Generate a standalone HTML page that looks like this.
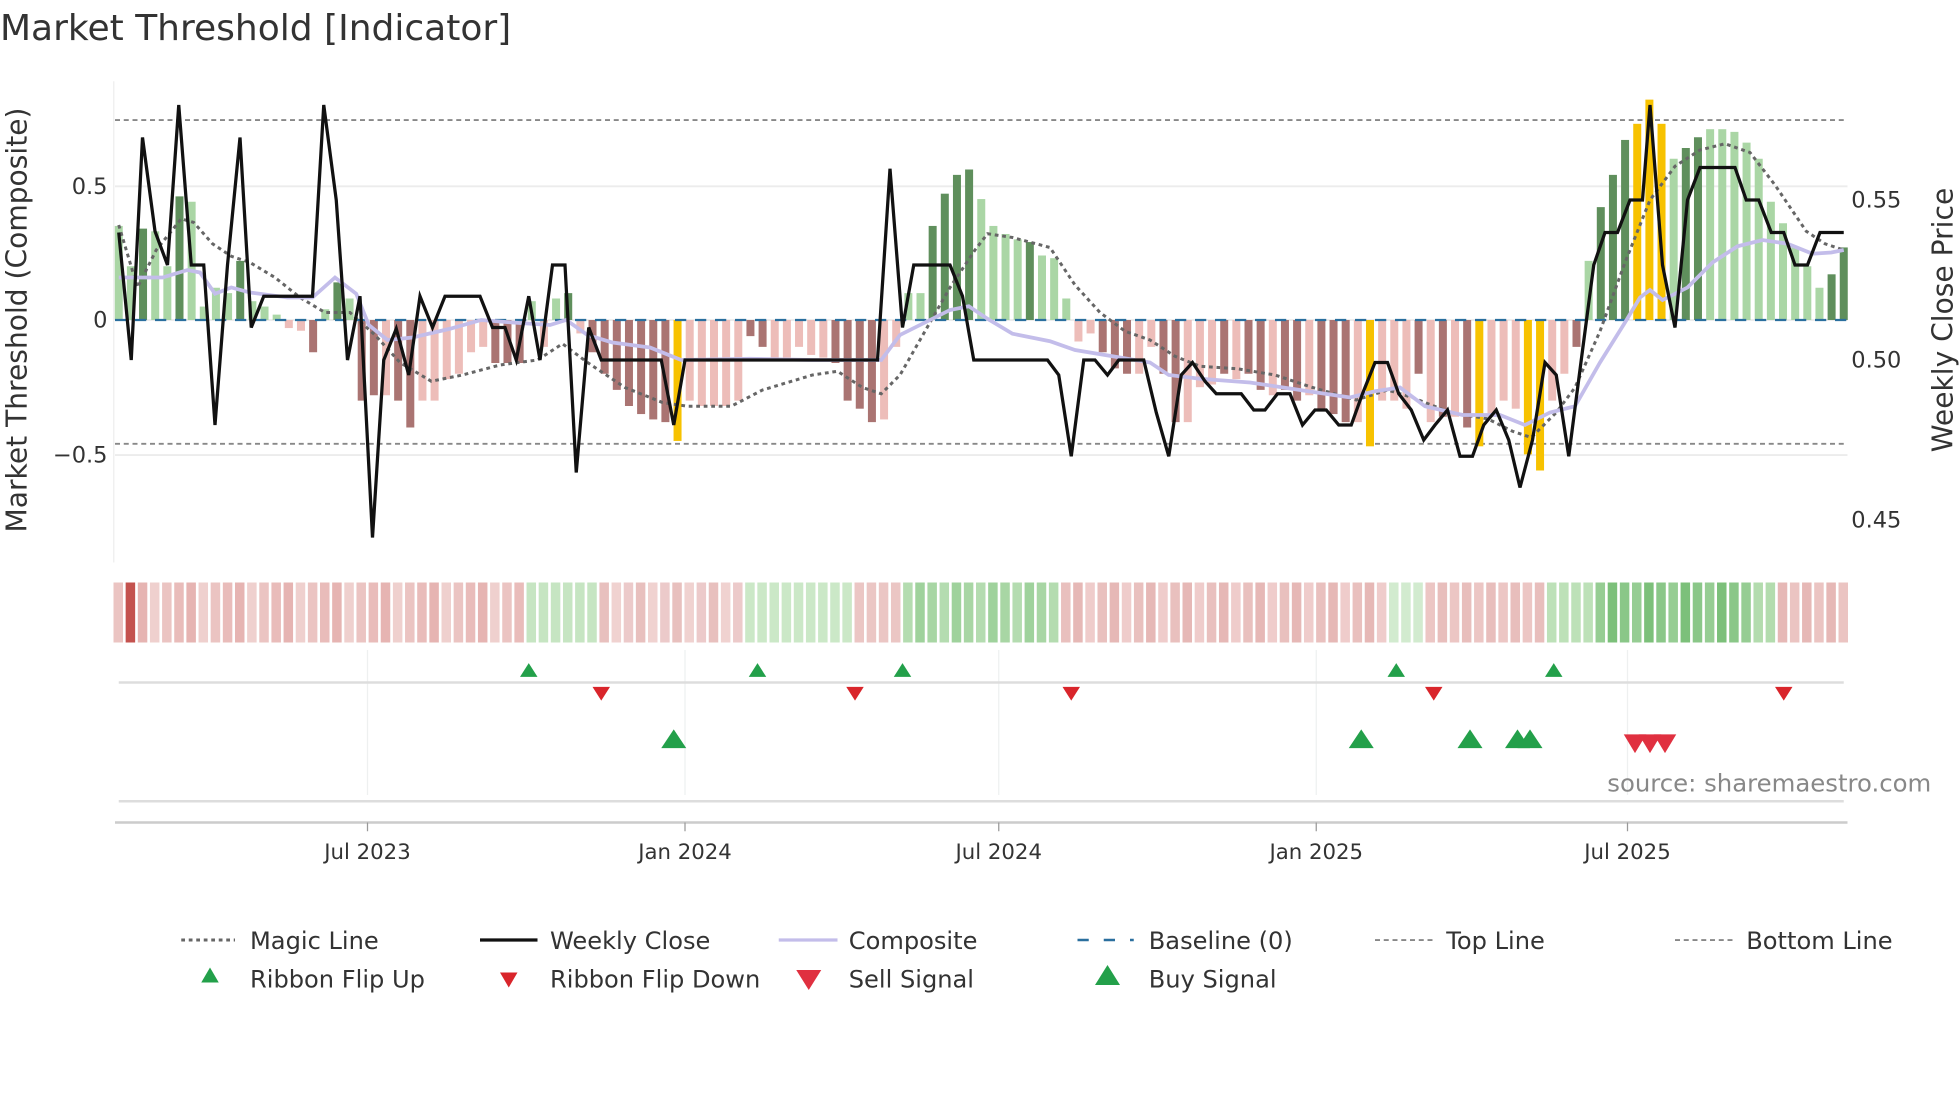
<!DOCTYPE html>
<html><head><meta charset="utf-8"><style>
html,body{margin:0;padding:0;background:#fff;}
svg{display:block;font-family:"DejaVu Sans","Liberation Sans",sans-serif;}
</style></head><body>
<svg id="s" width="1960" height="1102" viewBox="0 0 1568 881.6" preserveAspectRatio="none" xmlns="http://www.w3.org/2000/svg">
<rect width="1568" height="881.6" fill="#fff"/>
<text x="0" y="32" font-size="28.8" fill="#333">Market Threshold [Indicator]</text>
<g id="main"></g>
</svg>
<script>
const NS="http://www.w3.org/2000/svg";
const g=document.getElementById('main');
function el(t,a,txt){const e=document.createElementNS(NS,t);for(const k in a)e.setAttribute(k,a[k]);if(txt!==undefined)e.textContent=txt;g.appendChild(e);return e;}
el('line',{x1:91,y1:65,x2:91,y2:450,stroke:'#eee','stroke-width':1});
[149,364].forEach(y=>el('line',{x1:92,y1:y,x2:1478,y2:y,stroke:'#ececec','stroke-width':1.5}));
el('line',{x1:92,y1:256,x2:1478,y2:256,stroke:'#ececec','stroke-width':1.5});
[[149,'0.5'],[256,'0'],[364,'\u22120.5']].forEach(([y,t])=>el('text',{x:86,y:y+6,'font-size':18,fill:'#333','text-anchor':'end'},t));
[[160,'0.55'],[288,'0.50'],[416,'0.45']].forEach(([y,t])=>el('text',{x:1481,y:y+6,'font-size':18,fill:'#333'},t));
el('text',{x:0,y:0,'font-size':22.5,fill:'#333','text-anchor':'middle',transform:'translate(21,256) rotate(-90)'},'Market Threshold (Composite)');
el('text',{x:0,y:0,'font-size':22.5,fill:'#333','text-anchor':'middle',transform:'translate(1562,256) rotate(-90)'},'Weekly Close Price');
el('line',{x1:92,y1:96,x2:1478,y2:96,stroke:'#888','stroke-width':1.5,'stroke-dasharray':'4,3'});
el('line',{x1:92,y1:355,x2:1478,y2:355,stroke:'#888','stroke-width':1.5,'stroke-dasharray':'4,3'});
const B="0.35L 0.2L 0.34D 0.33L 0.2L 0.46D 0.44L 0.05L 0.12L 0.1L 0.22D 0.07L 0.05L 0.02L -0.03P -0.04P -0.12R 0.04L 0.14D 0.08L -0.3R -0.28R -0.28P -0.3R -0.4R -0.3P -0.3P -0.22P -0.2P -0.12P -0.1P -0.16R -0.16R -0.16R 0.07L -0.1P 0.08L 0.1D -0.05P -0.12R -0.2R -0.26R -0.32R -0.35R -0.37R -0.38R -0.45G -0.3P -0.32P -0.32P -0.32P -0.3P -0.06R -0.1R -0.15P -0.14P -0.1P -0.13P -0.14P -0.16R -0.3R -0.33R -0.38R -0.37P -0.1P 0.1L 0.1L 0.35D 0.47D 0.54D 0.56D 0.45L 0.35L 0.32L 0.3L 0.29D 0.24L 0.23L 0.08L -0.08P -0.05P -0.12R -0.18R -0.2R -0.2P -0.1P -0.2R -0.38R -0.38P -0.25P -0.24P -0.2R -0.22P -0.2R -0.26R -0.28P -0.26R -0.3R -0.28P -0.33R -0.35R -0.38R -0.38P -0.47G -0.3P -0.3P -0.33P -0.2R -0.38P -0.36R -0.36P -0.4R -0.47G -0.36P -0.3P -0.33P -0.5G -0.56G -0.3P -0.2P -0.1R 0.22L 0.42D 0.54D 0.67D 0.73G 0.82G 0.73G 0.6L 0.64D 0.68D 0.71L 0.71L 0.7L 0.66L 0.6L 0.44L 0.36L 0.27L 0.2L 0.12L 0.17D 0.27D".split(' ');
const C={D:'#5f8f5c',L:'#aad6a5',R:'#aa7472',P:'#edbdb9',G:'#f7c200'};
const N=B.length,dx=(1475-95)/(N-1);
B.forEach((s,i)=>{const v=parseFloat(s),c=s.slice(-1),x=95+i*dx,h=Math.abs(v)*215;
 el('rect',{x:x-3.2,y:v>0?256-h:256,width:6.4,height:h,fill:C[c]});});
el('line',{x1:92,y1:256,x2:1478,y2:256,stroke:'#2a6f9e','stroke-width':1.8,'stroke-dasharray':'9,7'});
function pl(pts,attrs){el('polyline',Object.assign({points:pts.map(p=>p.join(',')).join(' '),fill:'none'},attrs));}
pl([[95,180],[110,230],[125,200],[145,175],[155,178],[170,195],[185,205],[200,210],[220,222],[240,238],[260,250],[280,250],[300,268],[320,290],[345,305],[370,300],[400,292],[430,288],[450,275],[470,290],[500,310],[530,322],[550,325],[585,325],[610,312],[650,300],[670,297],[690,310],[705,315],[720,300],[740,265],[760,230],[780,200],[790,187],[810,190],[840,198],[860,228],[880,250],[900,265],[920,272],[940,285],[960,293],[990,295],[1020,300],[1050,310],[1085,320],[1110,312],[1130,318],[1160,330],[1190,335],[1210,345],[1225,350],[1245,330],[1260,310],[1280,265],[1300,210],[1320,160],[1340,133],[1360,120],[1380,115],[1400,122],[1420,148],[1445,185],[1460,195],[1475,200]],{stroke:'#666','stroke-width':2.4,'stroke-dasharray':'3,3'});
pl([[95,222],[130,222],[150,216],[160,218],[172,235],[185,230],[200,234],[230,238],[250,238],[268,222],[285,235],[295,260],[310,272],[330,270],[360,263],[385,256],[410,258],[440,260],[453,256],[470,268],[490,274],[520,278],[545,288],[600,287],[650,288],[705,288],[720,268],[740,258],[760,248],[775,245],[790,255],[810,267],[840,273],[860,280],[890,285],[920,290],[935,300],[960,303],[1000,306],[1040,312],[1080,318],[1100,313],[1120,310],[1140,325],[1170,332],[1200,332],[1220,340],[1240,330],[1260,325],[1280,290],[1300,258],[1312,238],[1320,232],[1330,240],[1350,230],[1370,210],[1390,197],[1410,192],[1430,195],[1450,203],[1465,202],[1475,200]],{stroke:'#c3bdea','stroke-width':3});
let W=[[95,186],[105,288],[114,110],[124,185],[134,212],[143,84],[153,212],[163,212],[172,340],[182,212],[192,110],[201,262],[211,237],[250,237],[259,84],[269,160],[278,288],[288,237],[298,430],[307,288],[317,263],[327,300],[336,237],[346,262],[356,237],[384,237],[394,262],[404,262],[413,288],[423,237],[432,288],[442,212],[452,212],[461,378],[471,262],[481,288],[529,288],[539,340],[548,288],[702,288],[712,135],[722,262],[731,212],[760,212],[770,237],[779,288],[838,288],[847,300],[857,365],[867,288],[876,288],[886,300],[895,288],[915,288],[925,330],[935,365],[945,300],[954,290],[964,305],[973,315],[993,315],[1003,328],[1012,328],[1022,315],[1032,315],[1042,340],[1052,328],[1061,328],[1071,340],[1081,340],[1090,315],[1100,290],[1110,290],[1119,315],[1129,328],[1139,352],[1148,340],[1158,328],[1168,365],[1178,365],[1187,340],[1197,328],[1207,352],[1216,390],[1226,352],[1236,290],[1245,300],[1255,365],[1265,288],[1275,212],[1284,186],[1294,186],[1304,160],[1314,160],[1320,84],[1330,212],[1340,262],[1350,160],[1360,134],[1388,134],[1397,160],[1407,160],[1417,186],[1427,186],[1436,212],[1446,212],[1456,186],[1475,186]];
pl(W,{stroke:'#111','stroke-width':2.6,'stroke-linejoin':'miter'});
function rib(i){const x=95+i*dx;
 if(i===1)return '#c4524e';
 if(x<420)return ['#ebc4c2','#e9bcba','#e6b4b2','#efd0ce'][i%4];
 if(x<477)return '#c6e5c2';
 if(x<600)return ['#eccaca','#e8c0be','#f0d2d0'][i%3];
 if(x<680)return '#cbe8c7';
 if(x<718)return '#ebc6c4';
 if(x<852)return ['#9fd29c','#a8d6a4','#b4dcb0'][i%3];
 if(x<1112)return ['#e9c0be','#e6b8b6','#efcccb'][i%3];
 if(x<1140)return '#d2ebcf';
 if(x<1240)return ['#ecc6c4','#e8bebc'][i%2];
 if(x<1275)return '#bde1b8';
 if(x<1400)return ['#7cc07a','#8ac788','#96cd93'][i%3];
 if(x<1420)return '#b3dcae';
 return ['#ebc4c2','#e6b8b6'][i%2];}
for(let i=0;i<N;i++){const x=95+i*dx;el('rect',{x:x-4.2,y:466,width:7.6,height:48,fill:rib(i)});}
[294,548,799,1053,1302].forEach(x=>{el('line',{x1:x,y1:520,x2:x,y2:636,stroke:'#eef0f0','stroke-width':1});});
el('line',{x1:95,y1:546,x2:1475,y2:546,stroke:'#ddd','stroke-width':2});
el('line',{x1:95,y1:641,x2:1475,y2:641,stroke:'#ddd','stroke-width':2});
el('line',{x1:92,y1:658,x2:1478,y2:658,stroke:'#ccc','stroke-width':2});
function up(x,y,w,h,c){el('polygon',{points:`${x-w/2},${y+h/2} ${x+w/2},${y+h/2} ${x},${y-h/2}`,fill:c});}
function dn(x,y,w,h,c){el('polygon',{points:`${x-w/2},${y-h/2} ${x+w/2},${y-h/2} ${x},${y+h/2}`,fill:c});}
[423,606,722,1117,1243].forEach(x=>up(x,536,14,11,'#23a04a'));
[481,684,857,1147,1427].forEach(x=>dn(x,555,14,11,'#d9252b'));
[539,1089,1176,1214,1224].forEach(x=>up(x,591,20,15,'#23a04a'));
[1308,1320,1332].forEach(x=>dn(x,595,18,15,'#e03040'));
el('text',{x:1545,y:633,'font-size':19.5,fill:'#888','text-anchor':'end'},'source: sharemaestro.com');
[[294,'Jul 2023'],[548,'Jan 2024'],[799,'Jul 2024'],[1053,'Jan 2025'],[1302,'Jul 2025']].forEach(([x,t])=>{
 el('line',{x1:x,y1:658,x2:x,y2:665,stroke:'#999','stroke-width':1});
 el('text',{x:x,y:687,'font-size':17,fill:'#333','text-anchor':'middle'},t);});
const ly=752,ly2=783;
el('line',{x1:145,y1:ly,x2:188,y2:ly,stroke:'#666','stroke-width':2.4,'stroke-dasharray':'3,3'});
el('line',{x1:384,y1:ly,x2:430,y2:ly,stroke:'#111','stroke-width':2.6});
el('line',{x1:623,y1:ly,x2:670,y2:ly,stroke:'#c3bdea','stroke-width':2.6});
el('line',{x1:862,y1:ly,x2:907,y2:ly,stroke:'#2a6f9e','stroke-width':2,'stroke-dasharray':'9,12'});
el('line',{x1:1100,y1:ly,x2:1146,y2:ly,stroke:'#888','stroke-width':1.5,'stroke-dasharray':'4,3'});
el('line',{x1:1340,y1:ly,x2:1386,y2:ly,stroke:'#888','stroke-width':1.5,'stroke-dasharray':'4,3'});
[[200,'Magic Line'],[440,'Weekly Close'],[679,'Composite'],[919,'Baseline (0)'],[1157,'Top Line'],[1397,'Bottom Line']].forEach(([x,t])=>el('text',{x:x,y:ly+7,'font-size':19.3,fill:'#333'},t));
up(168,ly2-3,14,12,'#23a04a');dn(407,ly2+1,14,12,'#d9252b');dn(647,ly2+1,20,16,'#e03040');up(886,ly2-3,20,16,'#23a04a');
[[200,'Ribbon Flip Up'],[440,'Ribbon Flip Down'],[679,'Sell Signal'],[919,'Buy Signal']].forEach(([x,t])=>el('text',{x:x,y:ly2+7,'font-size':19.3,fill:'#333'},t));
</script>
</body></html>
